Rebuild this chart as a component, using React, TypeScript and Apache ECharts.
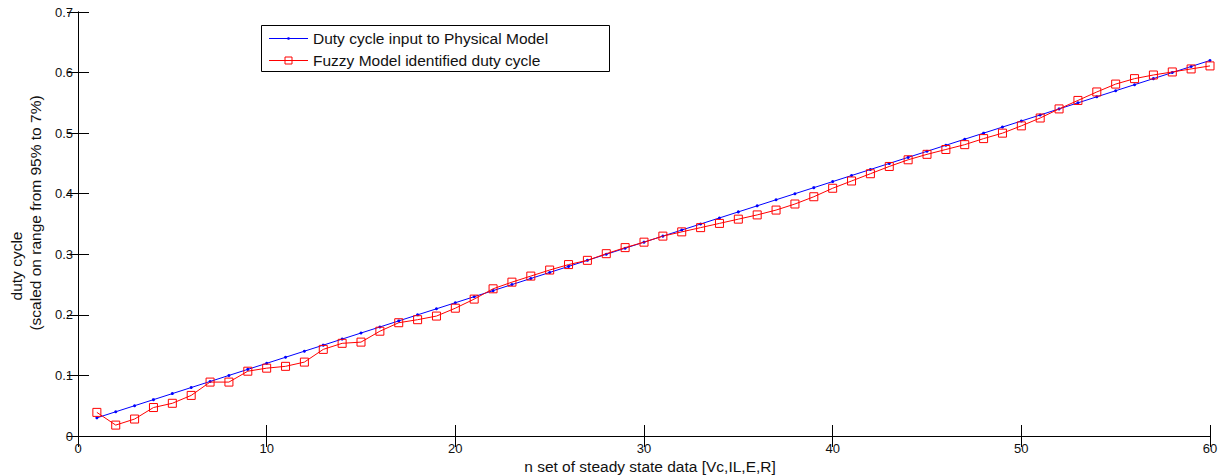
import React, { useEffect, useRef } from "react";
import * as echarts from "echarts";

const seriesNames = ["Duty cycle input to Physical Model", "Fuzzy Model identified duty cycle"];
const xAxisTitle = "n set of steady state data [Vc,IL,E,R]";
const yAxisTitleLine1 = "duty cycle";
const yAxisTitleLine2 = "(scaled on range from 95% to 7%)";

const dutyInput = [
  0.03, 0.04, 0.05, 0.06, 0.07, 0.08, 0.09, 0.1, 0.11, 0.12,
  0.13, 0.14, 0.15, 0.16, 0.17, 0.18, 0.19, 0.2, 0.21, 0.22,
  0.23, 0.24, 0.25, 0.26, 0.27, 0.28, 0.29, 0.3, 0.31, 0.32,
  0.33, 0.34, 0.35, 0.36, 0.37, 0.38, 0.39, 0.4, 0.41, 0.42,
  0.43, 0.44, 0.45, 0.46, 0.47, 0.48, 0.49, 0.5, 0.51, 0.52,
  0.53, 0.54, 0.55, 0.56, 0.57, 0.58, 0.59, 0.6, 0.61, 0.62,
];

const fuzzyOutput = [
  0.039, 0.018, 0.028, 0.047, 0.054, 0.067, 0.089, 0.089, 0.107, 0.112,
  0.115, 0.122, 0.143, 0.153, 0.155, 0.173, 0.187, 0.192, 0.198, 0.211,
  0.226, 0.243, 0.254, 0.264, 0.274, 0.283, 0.290, 0.301, 0.311, 0.320,
  0.330, 0.337, 0.344, 0.351, 0.358, 0.365, 0.373, 0.383, 0.395, 0.409,
  0.421, 0.433, 0.445, 0.456, 0.465, 0.473, 0.481, 0.491, 0.500, 0.512,
  0.525, 0.540, 0.554, 0.568, 0.581, 0.590, 0.596, 0.601, 0.606, 0.611,
];

const FONT = "'Liberation Sans', Arial, Helvetica, sans-serif";
const BLUE = "#0000ff";
const RED = "#ff0000";

export default function App() {
  const ref = useRef<HTMLDivElement>(null);
  useEffect(() => {
    if (!ref.current) return;
    const chart = echarts.init(ref.current, null, { renderer: "svg" });
    const axisCommon = {
      type: "value" as const,
      axisLine: { show: true, lineStyle: { color: "#000", width: 1 } },
      axisTick: { show: true, inside: true, length: 11, lineStyle: { color: "#000" } },
      splitLine: { show: false },
    };
    const labelStyle = { font: `15.5px ${FONT}`, fill: "#111" };
    chart.setOption({
      animation: false,
      backgroundColor: "#fff",
      textStyle: { fontFamily: FONT },
      grid: { left: 78, right: 16, top: 12, bottom: 39, containLabel: false },
      xAxis: [
        {
          ...axisCommon,
          min: 0,
          max: 60,
          interval: 10,
          position: "bottom",
          axisLabel: { show: true, color: "#111", fontSize: 13, margin: 6, fontFamily: FONT },
        },
        {
          ...axisCommon,
          min: 0,
          max: 60,
          interval: 10,
          position: "top",
          axisLabel: { show: false },
        },
      ],
      yAxis: [
        {
          ...axisCommon,
          min: 0,
          max: 0.7,
          interval: 0.1,
          position: "left",
          axisLabel: {
            show: true,
            color: "#111",
            fontSize: 13,
            margin: 5,
            fontFamily: FONT,
            formatter: (v: number) => (v === 0 ? "0" : v.toFixed(1)),
          },
        },
        {
          ...axisCommon,
          min: 0,
          max: 0.7,
          interval: 0.1,
          position: "right",
          axisLabel: { show: false },
        },
      ],
      graphic: [
        {
          type: "text",
          x: 650,
          y: 466,
          style: { ...labelStyle, text: xAxisTitle, textAlign: "center", textVerticalAlign: "middle" },
        },
        {
          type: "text",
          x: 16,
          y: 266,
          rotation: Math.PI / 2,
          style: { ...labelStyle, text: yAxisTitleLine1, textAlign: "center", textVerticalAlign: "middle" },
        },
        {
          type: "text",
          x: 35,
          y: 213,
          rotation: Math.PI / 2,
          style: { ...labelStyle, text: yAxisTitleLine2, textAlign: "center", textVerticalAlign: "middle" },
        },
        // legend box
        {
          type: "group",
          z: 100,
          children: [
            {
              type: "rect",
              shape: { x: 261.5, y: 25.5, width: 348, height: 46 },
              style: { fill: "#fff", stroke: "#000", lineWidth: 1 },
            },
            {
              type: "line",
              shape: { x1: 269, y1: 38.5, x2: 308, y2: 38.5 },
              style: { stroke: BLUE, lineWidth: 1 },
            },
            {
              type: "circle",
              shape: { cx: 288.5, cy: 38.5, r: 1.3 },
              style: { fill: BLUE },
            },
            {
              type: "text",
              x: 313,
              y: 38.5,
              style: { ...labelStyle, text: seriesNames[0], textVerticalAlign: "middle" },
            },
            {
              type: "line",
              shape: { x1: 269, y1: 60.5, x2: 308, y2: 60.5 },
              style: { stroke: RED, lineWidth: 1 },
            },
            {
              type: "rect",
              shape: { x: 285, y: 57, width: 7, height: 7 },
              style: { fill: "none", stroke: RED, lineWidth: 1 },
            },
            {
              type: "text",
              x: 313,
              y: 60.5,
              style: { ...labelStyle, text: seriesNames[1], textVerticalAlign: "middle" },
            },
          ],
        },
      ],
      series: [
        {
          name: seriesNames[0],
          type: "line",
          data: dutyInput.map((v, i) => [i + 1, v]),
          symbol: "circle",
          symbolSize: 3,
          showAllSymbol: true,
          itemStyle: { color: BLUE },
          lineStyle: { color: BLUE, width: 1 },
          z: 2,
        },
        {
          name: seriesNames[1],
          type: "line",
          data: fuzzyOutput.map((v, i) => [i + 1, v]),
          symbol: "rect",
          symbolSize: 8,
          showAllSymbol: true,
          itemStyle: { color: "rgba(0,0,0,0)", borderColor: RED, borderWidth: 1 },
          lineStyle: { color: RED, width: 1 },
          z: 3,
        },
      ],
    });
    return () => chart.dispose();
  }, []);
  return (
    <div
      ref={ref}
      style={{ position: "fixed", left: 0, top: 0, width: 1226, height: 475 }}
    />
  );
}
